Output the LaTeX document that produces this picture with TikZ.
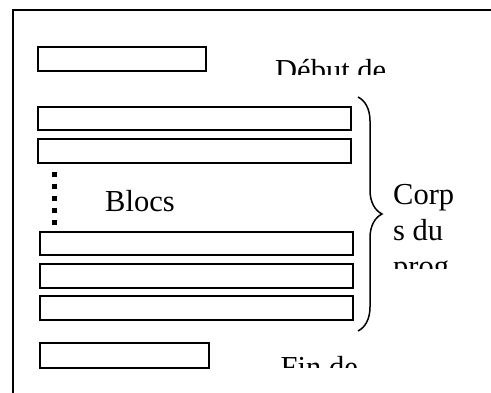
\documentclass[tikz,border=0pt]{standalone}
\usepackage{fontspec}
\setmainfont{Liberation Serif}
\usetikzlibrary{decorations.pathreplacing}

\begin{document}
\begin{tikzpicture}[x=1pt,y=-1pt]
        \tikzstyle{bloc}=[draw=black, line width=1.5pt, inner sep=0pt, anchor=north west]
        \tikzstyle{mot}=[font=\fontsize{30.5}{36}\selectfont, inner sep=0pt, anchor=base west, align=left]
        \useasboundingbox (0,0) rectangle (491,392);

        % Cadre
        \draw[line width=1.5pt] (13,400) -- (13,10) -- (500,10);

        % Blocs
        \node[bloc, minimum width=168pt, minimum height=24pt] (debut) at (37,46) {};
        \node[bloc, minimum width=313pt, minimum height=23pt] (b1) at (37,106) {};
        \node[bloc, minimum width=313pt, minimum height=24pt] (b2) at (37,138) {};
        \node[bloc, minimum width=313pt, minimum height=23pt] (b3) at (39,231) {};
        \node[bloc, minimum width=313pt, minimum height=24pt] (b4) at (39,263) {};
        \node[bloc, minimum width=313pt, minimum height=24pt] (b5) at (39,295) {};
        \node[bloc, minimum width=169pt, minimum height=25pt] (fin) at (39,342) {};

        % Pointilles
        \coordinate (ph) at (54.5,171.5);
        \coordinate (pb) at (54.5,225);
        \draw[line width=5pt, dash pattern=on 5pt off 7pt] (ph) -- (pb);

        % Textes
        \node[mot] (blocs) at (105,211.5) {Blocs};
        \begin{scope}
            \clip (260,40) rectangle (480,74.5);
            \node[mot] (tdebut) at (275,80) {Début de};
        \end{scope}
        \begin{scope}
            \clip (385,170) rectangle (480,268);
            \node[mot] (corps1) at (393,204) {Corp};
            \node[mot] (corps2) at (393,240) {s du};
            \node[mot] (corps3) at (393,276) {prog};
        \end{scope}
        \begin{scope}
            \clip (265,340) rectangle (480,367.5);
            \node[mot] (tfin) at (280.5,377) {Fin de};
        \end{scope}

        % Accolade
        \coordinate (ah) at (358,97);
        \coordinate (ab) at (358,331);
        \draw[line width=1.5pt, decorate, decoration={brace, amplitude=24pt}] (ah) -- (ab);

    \end{tikzpicture}
\end{document}
